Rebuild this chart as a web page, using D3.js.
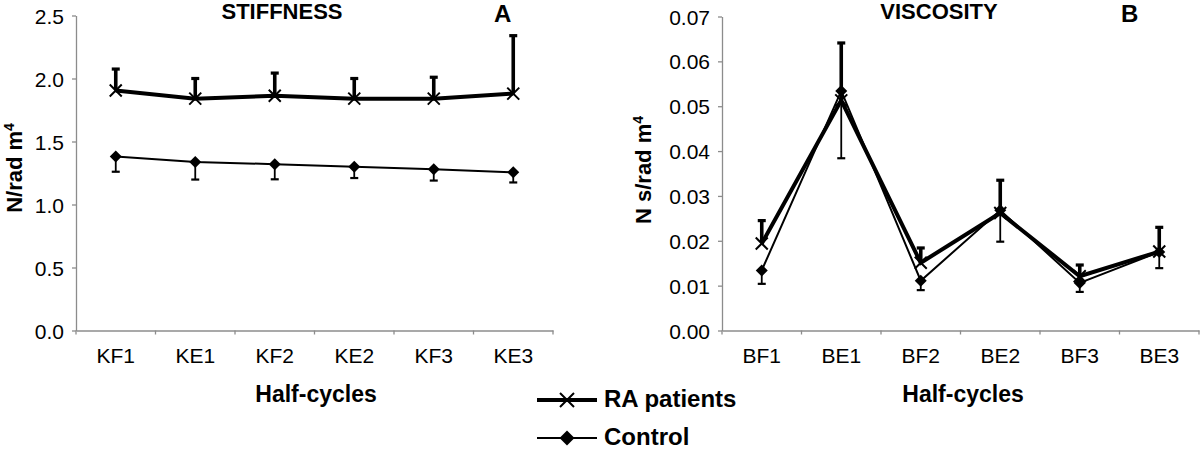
<!DOCTYPE html>
<html>
<head>
<meta charset="utf-8">
<script src="https://cdn.jsdelivr.net/npm/d3@7"></script>
<style>
  body { margin: 0; background: #fff; }
  text { font-family: "Liberation Sans", Arial, sans-serif; fill: #000; }
</style>
</head>
<body>
<script>
// chart data
var stiffCats = ['KF1', 'KE1', 'KF2', 'KE2', 'KF3', 'KE3'];
var stiffRA = [1.905, 1.84, 1.863, 1.84, 1.84, 1.88];
var stiffRASd = [0.17, 0.16, 0.18, 0.16, 0.17, 0.46];
var stiffCtrl = [1.38, 1.338, 1.32, 1.30, 1.28, 1.255];
var stiffCtrlSd = [0.12, 0.14, 0.12, 0.09, 0.09, 0.08];
var stiffTicks = [0, 0.5, 1.0, 1.5, 2.0, 2.5];

var viscCats = ['BF1', 'BE1', 'BF2', 'BE2', 'BF3', 'BE3'];
var viscRA = [0.0194, 0.0513, 0.0151, 0.0262, 0.0121, 0.0176];
var viscRASd = [0.0051, 0.0128, 0.0033, 0.0073, 0.0025, 0.0054];
var viscCtrl = [0.0134, 0.0534, 0.0111, 0.0268, 0.0106, 0.0175];
var viscCtrlSd = [0.003, 0.015, 0.0021, 0.007, 0.002, 0.0036];
var viscTicks = [0, 0.01, 0.02, 0.03, 0.04, 0.05, 0.06, 0.07];

var width = 1200, height = 455;

var svg = d3.select('body').append('svg')
    .attr('width', width)
    .attr('height', height);

// one panel: stiffness or viscosity
function panel(opt) {
    var x = d3.scaleBand().domain(opt.cats).range([opt.x0, opt.x1]);
    var y = d3.scaleLinear().domain(opt.yDomain).range([opt.y0, opt.y1]);
    var g = svg.append('g');

    // y axis
    var yAxis = g.append('g')
        .attr('transform', 'translate(' + opt.x0 + ',0)')
        .call(d3.axisLeft(y).tickValues(opt.ticks).tickFormat(d3.format(opt.fmt)).tickSize(4).tickSizeOuter(0));
    yAxis.selectAll('text').attr('x', -12).style('font-size', '21px').attr('dy', '0.36em');

    // x axis: labels at band centres, ticks at band edges
    var xAxis = g.append('g')
        .attr('transform', 'translate(0,' + opt.y0 + ')')
        .call(d3.axisBottom(x).tickSize(0).tickSizeOuter(0));
    xAxis.selectAll('text').attr('y', 18).style('font-size', '21px').attr('dy', '0.71em');
    var edges = opt.cats.map(function(d) { return x(d); }).concat([opt.x1]);
    xAxis.selectAll('.edge').data(edges).enter().append('line')
        .attr('class', 'edge')
        .attr('x1', function(d) { return d; }).attr('x2', function(d) { return d; })
        .attr('y1', 0).attr('y2', 4);

    g.selectAll('.domain, .tick line, .edge').attr('stroke', '#8c8c8c').attr('stroke-width', 1.3);
    g.selectAll('.domain').attr('fill', 'none');

    var cx = function(i) { return x(opt.cats[i]) + x.bandwidth() / 2; };

    // error bars: control downward (thin), RA upward (thick)
    opt.ctrl.forEach(function(v, i) {
        var yb = y(v - opt.ctrlSd[i]);
        g.append('line').attr('x1', cx(i)).attr('x2', cx(i)).attr('y1', y(v)).attr('y2', yb)
            .attr('stroke', '#000').attr('stroke-width', 1.8);
        g.append('line').attr('x1', cx(i) - 4).attr('x2', cx(i) + 4).attr('y1', yb).attr('y2', yb)
            .attr('stroke', '#000').attr('stroke-width', 2.2);
    });
    opt.ra.forEach(function(v, i) {
        var yt = y(v + opt.raSd[i]);
        g.append('line').attr('x1', cx(i)).attr('x2', cx(i)).attr('y1', y(v)).attr('y2', yt)
            .attr('stroke', '#000').attr('stroke-width', 3.6);
        g.append('line').attr('x1', cx(i) - 4).attr('x2', cx(i) + 4).attr('y1', yt).attr('y2', yt)
            .attr('stroke', '#000').attr('stroke-width', 3.2);
    });

    var line = d3.line().x(function(d, i) { return cx(i); }).y(function(d) { return y(d); });

    g.append('path').datum(opt.ctrl).attr('d', line)
        .attr('fill', 'none').attr('stroke', '#000').attr('stroke-width', 2);
    g.append('path').datum(opt.ra).attr('d', line)
        .attr('fill', 'none').attr('stroke', '#000').attr('stroke-width', 4);

    opt.ctrl.forEach(function(v, i) { diamond(g, cx(i), y(v), 6); });
    opt.ra.forEach(function(v, i) { cross(g, cx(i), y(v), 6); });

    // titles
    g.append('text').attr('x', opt.titleX).attr('y', 19)
        .attr('text-anchor', 'middle').style('font-size', '22px').style('font-weight', 'bold')
        .text(opt.title);
    g.append('text').attr('x', opt.letterX).attr('y', 22)
        .style('font-size', '24px').style('font-weight', 'bold').text(opt.letter);
    g.append('text').attr('x', opt.xTitleX).attr('y', 402)
        .attr('text-anchor', 'middle').style('font-size', '23px').style('font-weight', 'bold')
        .text('Half-cycles');
    var yt = g.append('text')
        .attr('transform', 'translate(' + opt.yTitleX + ',' + opt.yTitleY + ') rotate(-90)')
        .attr('text-anchor', 'middle').style('font-size', '22px').style('font-weight', 'bold');
    yt.append('tspan').text(opt.yTitle);
    yt.append('tspan').attr('dy', -8).style('font-size', '14px').text('4');
}

function diamond(g, x, y, r) {
    g.append('path')
        .attr('d', 'M' + x + ',' + (y - r) + 'L' + (x + r) + ',' + y + 'L' + x + ',' + (y + r) + 'L' + (x - r) + ',' + y + 'Z')
        .attr('fill', '#000');
}

function cross(g, x, y, s) {
    g.append('path')
        .attr('d', 'M' + (x - s) + ',' + (y - s) + 'L' + (x + s) + ',' + (y + s) +
            'M' + (x - s) + ',' + (y + s) + 'L' + (x + s) + ',' + (y - s))
        .attr('stroke', '#000').attr('stroke-width', 2).attr('fill', 'none');
}

panel({
    cats: stiffCats, ra: stiffRA, raSd: stiffRASd, ctrl: stiffCtrl, ctrlSd: stiffCtrlSd,
    ticks: stiffTicks, fmt: '.1f', yDomain: [0, 2.5],
    x0: 76, x1: 553, y0: 330.5, y1: 15.5,
    title: 'STIFFNESS', titleX: 282, letter: 'A', letterX: 494,
    xTitleX: 316, yTitle: 'N/rad m', yTitleX: 22, yTitleY: 168
});

panel({
    cats: viscCats, ra: viscRA, raSd: viscRASd, ctrl: viscCtrl, ctrlSd: viscCtrlSd,
    ticks: viscTicks, fmt: '.2f', yDomain: [0, 0.07],
    x0: 722, x1: 1199, y0: 330.5, y1: 16.5,
    title: 'VISCOSITY', titleX: 939, letter: 'B', letterX: 1121,
    xTitleX: 963, yTitle: 'N s/rad m', yTitleX: 651, yTitleY: 170
});

// legend
var legend = svg.append('g');
legend.append('line').attr('x1', 537).attr('x2', 597).attr('y1', 400).attr('y2', 400)
    .attr('stroke', '#000').attr('stroke-width', 4);
cross(legend, 567, 400, 7);
legend.append('line').attr('x1', 537).attr('x2', 597).attr('y1', 438).attr('y2', 438)
    .attr('stroke', '#000').attr('stroke-width', 2);
diamond(legend, 567, 438, 7.5);
legend.append('text').attr('x', 604).attr('y', 407).style('font-size', '24px').style('font-weight', 'bold')
    .text('RA patients');
legend.append('text').attr('x', 604).attr('y', 445).style('font-size', '24px').style('font-weight', 'bold')
    .text('Control');
</script>
</body>
</html>
